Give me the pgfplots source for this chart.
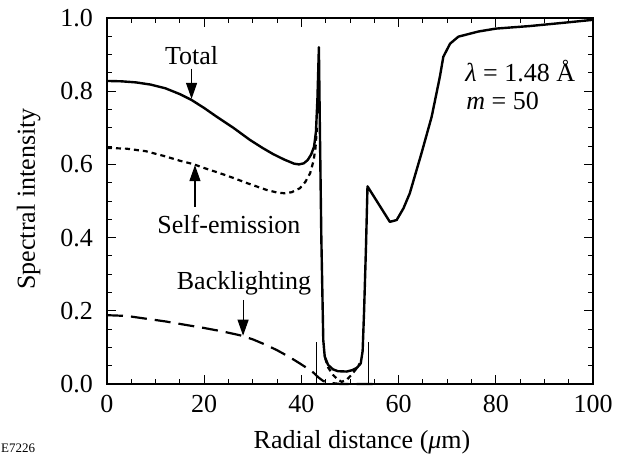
\documentclass[border=0pt]{standalone}
\usepackage{fontspec}
\setmainfont{Liberation Serif}
\usepackage{pgfplots}
\pgfplotsset{compat=1.18}
\usetikzlibrary{arrows.meta}
\newcommand{\bigf}{\fontsize{26bp}{30bp}\selectfont}

\begin{document}
\begin{tikzpicture}
\path[use as bounding box] (-107bp,-71bp) rectangle (522bp,384bp);
\begin{axis}[
  at={(0,0)}, anchor=south west,
  scale only axis, width=486bp, height=366bp,
  xmin=0, xmax=100, ymin=0, ymax=1,
  xtick={0,20,40,60,80,100}, minor x tick num=3,
  ytick={0,0.2,0.4,0.6,0.8,1.0}, minor y tick num=3,
  /pgf/number format/assume math mode=true,
  yticklabel style={/pgf/number format/fixed, /pgf/number format/fixed zerofill, /pgf/number format/precision=1, anchor=east, inner sep=0pt, xshift=-14bp},
  xticklabel style={anchor=north, inner sep=0pt, yshift=-11bp},
  every tick label/.append style={font=\bigf},
  tick align=inside, major tick length=9bp, minor tick length=5bp,
  every tick/.style={line width=0.9bp, black},
  axis line style={line width=1.2bp},
  clip=false,
]
% Total
\addplot[black, line width=2.4bp, line join=round] coordinates {
(0,0.828) (3,0.827) (6,0.824) (9,0.818) (12,0.808) (15,0.792) (17.4,0.776)
(20,0.754) (22.6,0.730) (26,0.700) (29.4,0.667) (32,0.645) (34.2,0.628)
(36.5,0.613) (38.5,0.602) (39.5,0.600) (40.5,0.603) (41.3,0.612) (42,0.627)
(42.6,0.648) (43.0,0.69) (43.3,0.78) (43.6,0.92) (43.8,0.70) (44.1,0.40)
(44.5,0.12) (44.8,0.075) (45.5,0.052) (46.5,0.040) (47.5,0.035) (49.3,0.034)
(50.5,0.038) (51.4,0.044) (52.2,0.056) (52.6,0.09) (52.9,0.20) (53.3,0.38)
(53.6,0.540) (58.2,0.443) (59.6,0.448) (61,0.48) (62.3,0.521) (64.7,0.630)
(66.8,0.730) (68.5,0.840) (69.2,0.894) (70.6,0.930) (72.3,0.949)
(76.4,0.963) (80,0.971) (87,0.978) (94,0.987) (100,0.995)
};
% Self-emission
\addplot[black, line width=2.2bp, dash pattern=on 5bp off 4bp] coordinates {
(0,0.645) (4,0.643) (8,0.636) (12,0.622) (15,0.610) (17.7,0.601) (20,0.590)
(23,0.577) (26,0.563) (29,0.548) (32.9,0.530) (35,0.523) (36.6,0.521)
(38,0.524) (39.7,0.535) (40.8,0.552) (41.8,0.576) (42.5,0.61) (42.9,0.645)
(43.2,0.70)
};
\addplot[black, line width=2.2bp, dash pattern=on 5bp off 4bp] coordinates {
(44.9,0.07) (45.5,0.045) (46.5,0.025) (47.5,0.012) (48.3,0.006) (49.3,0.011)
(50.3,0.025) (51.2,0.04) (52,0.056)
};
% Backlighting
\addplot[black, line width=2.2bp, dash pattern=on 16bp off 8bp] coordinates {
(0,0.188) (4,0.186) (8.8,0.177) (12,0.171) (16.4,0.161) (20,0.153) (24,0.143)
(27.4,0.133) (30,0.122) (32.5,0.108) (34.9,0.093) (37.5,0.074) (39.7,0.056)
(41.2,0.043) (42.4,0.032) (43.5,0.018) (44.5,0.008) (46,0.003) (48,0.0)
(52,0.0) (56,0.0)
};
% thin markers
\addplot[black, line width=0.8bp] coordinates {(43.1,0) (43.1,0.115)};
\addplot[black, line width=0.8bp] coordinates {(53.7,0) (53.7,0.115)};

% annotations
\node[font=\bigf, anchor=base] at (axis cs:17.4,0.872) {Total};
\draw[line width=1.1bp, -{Triangle[length=16bp,width=11bp]}] (axis cs:17.4,0.862) -- (axis cs:17.4,0.779);
\node[font=\bigf, anchor=base] at (axis cs:25.1,0.412) {Self-emission};
\draw[line width=1.1bp, -{Triangle[length=16bp,width=11bp]}] (axis cs:18.1,0.484) -- (axis cs:18.1,0.598);
\node[font=\bigf, anchor=base] at (axis cs:28.2,0.257) {Backlighting};
\draw[line width=1.1bp, -{Triangle[length=16bp,width=11bp]}] (axis cs:28.0,0.230) -- (axis cs:28.0,0.132);
\node[font=\bigf, anchor=base west, inner sep=0pt] at (axis cs:73.7,0.826) {\textit{λ} = 1.48 Å};
\node[font=\bigf, anchor=base west, inner sep=0pt] at (axis cs:73.9,0.749) {\textit{m} = 50};
\end{axis}
\node[font=\bigf, anchor=base] at (255bp,-64bp) {Radial distance (\textit{μ}m)};
\node[font=\bigf, anchor=base, rotate=90] at (-72bp,185bp) {Spectral intensity};
\node[font=\fontsize{13bp}{15bp}\selectfont, anchor=base west, inner sep=0pt] at (-106bp,-68bp) {E7226};
\end{tikzpicture}
\end{document}
